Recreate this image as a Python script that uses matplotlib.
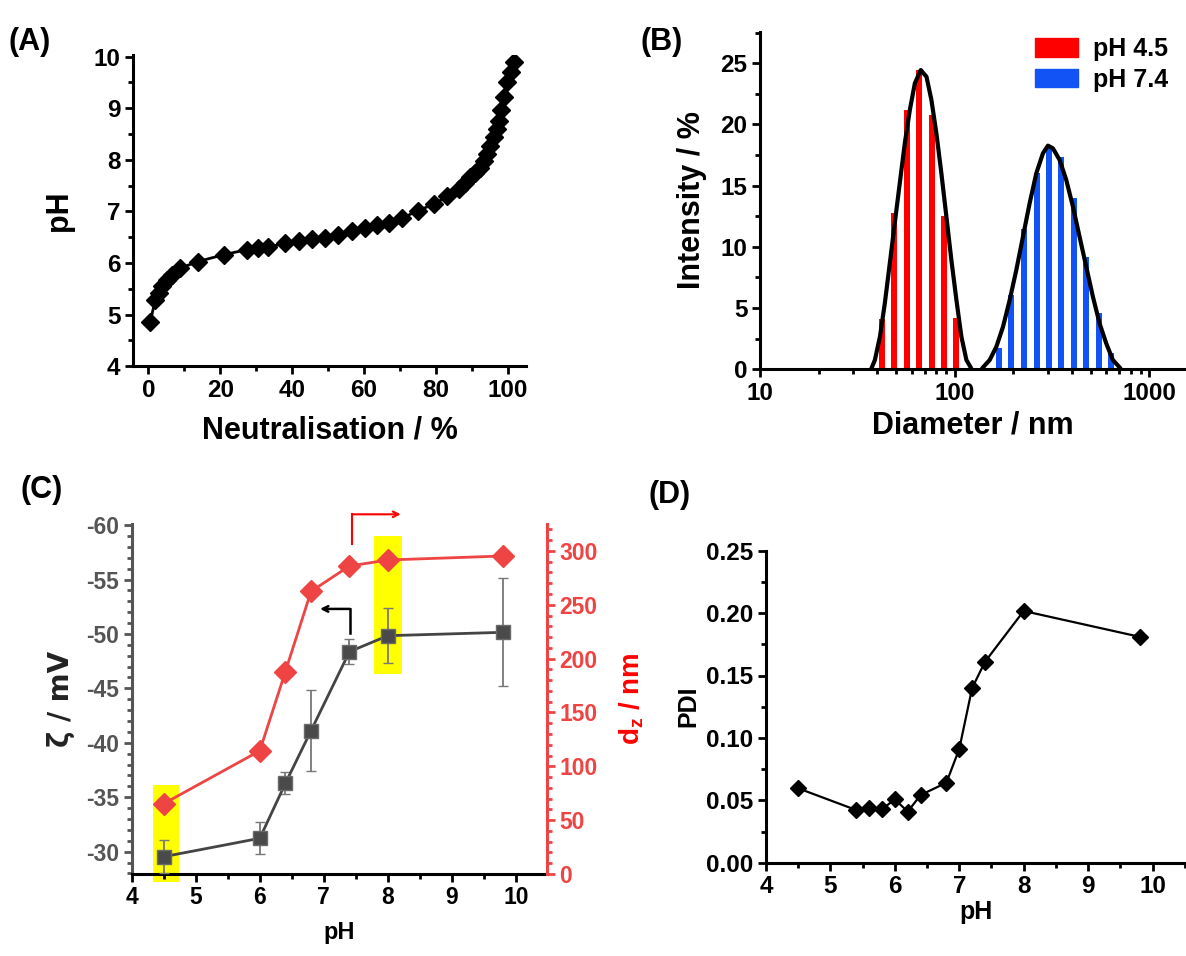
import numpy as np
import matplotlib
matplotlib.use("Agg")
import matplotlib.pyplot as plt
from matplotlib.ticker import MultipleLocator, LogLocator, NullFormatter
from matplotlib.patches import Rectangle, Patch
from matplotlib.font_manager import FontProperties

plt.rcParams['font.family'] = ['Liberation Sans', 'DejaVu Sans']
plt.rcParams['font.weight'] = 'bold'
plt.rcParams['axes.unicode_minus'] = False
plt.rcParams['mathtext.fontset'] = 'custom'
plt.rcParams['mathtext.rm'] = 'Liberation Sans:bold'
plt.rcParams['mathtext.it'] = 'Liberation Sans:bold'
plt.rcParams['mathtext.bf'] = 'Liberation Sans:bold'

# ---------------- data ----------------
# (A) titration curve
neut_pct = [0.5, 1.9, 2.8, 3.7, 5.1, 6.5, 8.8, 13.8, 20.9, 27.4, 30.4, 33.4, 37.9,
            41.8, 45.5, 49.2, 52.9, 56.7, 60.4, 63.6, 67.0, 70.6, 74.9, 79.4, 83.1,
            86.4, 88.2, 89.6, 91.0, 92.4, 93.3, 94.3, 95.2, 96.1, 97.0, 97.5, 98.2,
            98.9, 99.8, 100.8, 101.7]
titr_pH = [4.86, 5.29, 5.42, 5.55, 5.68, 5.77, 5.90, 6.03, 6.16, 6.26, 6.29, 6.31, 6.38,
           6.42, 6.46, 6.49, 6.55, 6.62, 6.67, 6.73, 6.78, 6.87, 7.01, 7.14, 7.29,
           7.43, 7.56, 7.66, 7.75, 7.85, 7.98, 8.11, 8.27, 8.44, 8.60, 8.76, 8.96,
           9.22, 9.51, 9.71, 9.90]
A_xticks = [0, 20, 40, 60, 80, 100]
A_yticks = [4, 5, 6, 7, 8, 9, 10]

# (B) DLS size distributions
diam_45 = [42.4, 49.0, 56.8, 65.9, 76.4, 88.3, 102.0]
int_45 = [4.1, 12.8, 21.2, 24.45, 20.8, 12.5, 4.2]
diam_74 = [169, 195.5, 226.6, 263.5, 303.7, 351.9, 408, 472, 549, 637]
int_74 = [1.7, 6.07, 11.5, 16.06, 18.06, 17.37, 13.97, 9.2, 4.57, 1.36]
fit45_d = [37.4, 38.9, 41.3, 43.75, 46.4, 49.2, 52.2, 55.4, 58.8, 62.4, 66.9, 71.6, 75.9,
           80.5, 85.4, 90.6, 96.1, 102.0, 108.2, 114.8, 120.3]
fit45_i = [0.1, 0.76, 2.67, 5.39, 8.66, 11.93, 15.2, 18.46, 21.18, 23.37, 24.45, 23.9, 22.0,
           19.28, 16.0, 12.47, 8.93, 5.66, 2.66, 0.76, 0.2]
fit74_d = [139.7, 151.2, 163.6, 177.0, 191.5, 207.1, 224.0, 242.4, 262.3, 283.8, 301.0,
           319.4, 345.6, 373.8, 404.5, 437.5, 473.4, 512.2, 554.1, 599.5, 648.6, 702.0]
fit74_i = [0.16, 0.76, 1.85, 3.48, 5.66, 8.11, 10.83, 13.56, 16.01, 17.65, 18.27,
           18.05, 17.1, 15.47, 13.29, 10.83, 8.38, 5.93, 3.76, 2.12, 0.76, 0.16]
B_xticks = [10, 100, 1000]
B_yticks = [0, 5, 10, 15, 20, 25]

# (C) zeta potential and z-average diameter
c_pH = [4.5, 6.0, 6.4, 6.8, 7.4, 8.0, 9.8]
zeta = [-29.54, -31.23, -36.28, -41.11, -48.37, -49.84, -50.15]
zeta_err = [1.5, 1.47, 1.0, 3.7, 1.15, 2.55, 4.95]
dz = [65.3, 114.4, 188.0, 262.4, 286.0, 291.6, 295.3]
C_xticks = [4, 5, 6, 7, 8, 9, 10]
C_lyticks = [-30, -35, -40, -45, -50, -55, -60]
C_ryticks = [0, 50, 100, 150, 200, 250, 300]

# (D) PDI
d_pH = [4.5, 5.4, 5.6, 5.8, 6.0, 6.2, 6.4, 6.8, 7.0, 7.2, 7.4, 8.0, 9.8]
pdi = [0.0596, 0.0422, 0.0436, 0.0428, 0.0508, 0.0409, 0.0542, 0.0641, 0.0911,
       0.140, 0.161, 0.2017, 0.181]
D_xticks = [4, 5, 6, 7, 8, 9, 10]
D_yticks = [0.00, 0.05, 0.10, 0.15, 0.20, 0.25]

# ---------------- figure ----------------
W, H = 1186, 956
fig = plt.figure(figsize=(W / 100, H / 100), dpi=100)


def add_ax(l, r, t, b):
    return fig.add_axes([l / W, 1 - b / H, (r - l) / W, (b - t) / H])


def fp(size):
    return FontProperties(family='Liberation Sans', weight='bold', size=size)


def set_ticks(ax, xt, yt, size, yfmt='{:g}', color=None):
    ax.set_xticks(xt)
    ax.set_xticklabels([str(v) for v in xt], fontproperties=fp(size))
    ax.set_yticks(yt)
    ax.set_yticklabels([yfmt.format(v) for v in yt], fontproperties=fp(size),
                       color=color if color else 'black')


def style(ax):
    for s in ['top', 'right']:
        ax.spines[s].set_visible(False)
    for s in ['left', 'bottom']:
        ax.spines[s].set_linewidth(2.2)
    ax.tick_params(which='major', direction='out', length=6, width=2, pad=3)
    ax.tick_params(which='minor', direction='out', length=3.5, width=2)


# ---- (A) ----
axA = add_ax(133, 526, 55, 366.3)
axA.plot(neut_pct, titr_pH, color='black', lw=2, marker='D', ms=9.2, mfc='black', mec='black')
axA.set_xlim(-4.3, 105.1)
axA.set_ylim(4, 10.03)
style(axA)
set_ticks(axA, A_xticks, A_yticks, 17.5)
axA.xaxis.set_minor_locator(MultipleLocator(10))
axA.yaxis.set_minor_locator(MultipleLocator(0.5))
axA.set_xlabel('Neutralisation / %', fontproperties=fp(22), labelpad=10)
axA.set_ylabel('pH', fontproperties=fp(22), labelpad=14)
fig.text(8 / W, 1 - 42 / H, '(A)', fontproperties=fp(22), va='center')

# ---- (B) ----
axB = add_ax(760, 1186, 31.7, 369.3)
hw = 0.0155
for d_, i_, col in [(diam_45, int_45, '#FF0000'), (diam_74, int_74, '#1153F5')]:
    d_ = np.array(d_)
    left = d_ * 10 ** (-hw)
    axB.bar(left, i_, width=d_ * (10 ** hw - 10 ** (-hw)), align='edge', color=col, lw=0)
axB.plot(fit45_d, fit45_i, color='black', lw=3, solid_joinstyle='round')
axB.plot(fit74_d, fit74_i, color='black', lw=3, solid_joinstyle='round')
axB.set_xscale('log')
axB.set_xlim(10, 1540)
axB.set_ylim(0, 27.58)
style(axB)
set_ticks(axB, B_xticks, B_yticks, 17.5)
axB.xaxis.set_minor_locator(LogLocator(base=10, subs=np.arange(2, 10)))
axB.xaxis.set_minor_formatter(NullFormatter())
axB.yaxis.set_minor_locator(MultipleLocator(2.5))
axB.set_xlabel('Diameter / nm', fontproperties=fp(22), labelpad=4)
axB.set_ylabel('Intensity / %', fontproperties=fp(22), labelpad=10)
axB.legend(handles=[Patch(color='#FF0000', label='pH 4.5'), Patch(color='#1153F5', label='pH 7.4')],
           loc='upper right', bbox_to_anchor=(1.01, 1.05), frameon=False, prop=fp(18),
           handlelength=1.7, handleheight=0.75, handletextpad=0.6, labelspacing=0.25)
fig.text(640 / W, 1 - 42 / H, '(B)', fontproperties=fp(22), va='center')

# ---- (C) ----
grey = '#555555'
red = '#EE4444'
axC = add_ax(131.7, 546.7, 524, 874)
axC.add_patch(Rectangle((4.33, -36.13), 0.41, 8.93, color='#FFFF00', lw=0, zorder=0, clip_on=False))
axC.add_patch(Rectangle((7.79, -58.98), 0.43, 12.7, color='#FFFF00', lw=0, zorder=0))
axC.errorbar(c_pH, zeta, yerr=zeta_err, color='#444444', lw=2, marker='s', ms=10.5,
             mfc='#4a4a4a', mec='#6a6a6a', mew=1, ecolor='#777777', elinewidth=1.3,
             capsize=3.5, capthick=1.2, zorder=3)
axC.set_xlim(4, 10.48)
axC.set_ylim(-27.95, -60.1)
style(axC)
set_ticks(axC, C_xticks, C_lyticks, 16.5, color=grey)
axC.xaxis.set_minor_locator(MultipleLocator(0.5))
axC.yaxis.set_minor_locator(MultipleLocator(1))
axC.spines['left'].set_color(grey)
axC.tick_params(axis='y', which='both', color=grey)
axC.set_xlabel('pH', fontproperties=fp(17), labelpad=8)
axC.set_ylabel('ζ / mV', fontsize=20, fontweight='bold', labelpad=8, color='#222222',
               family=['DejaVu Sans'])
# black arrow pointing to left axis
axC.annotate('', xy=(6.94, -52.3), xytext=(7.41, -52.3),
             arrowprops=dict(arrowstyle='->', color='black', lw=1.8, shrinkA=0, shrinkB=0))
axC.plot([7.41, 7.41], [-50.05, -52.3], color='black', lw=1.8)

axC2 = axC.twinx()
axC2.plot(c_pH, dz, color=red, lw=2, marker='D', ms=11, mfc=red, mec=red, zorder=3)
axC2.set_ylim(0, 325)
for s in ['top', 'left', 'bottom']:
    axC2.spines[s].set_visible(False)
axC2.spines['right'].set_color(red)
axC2.spines['right'].set_linewidth(2.2)
axC2.tick_params(which='major', direction='out', length=6, width=2, color=red, pad=3)
axC2.tick_params(which='minor', direction='out', length=3.5, width=2, color=red)
axC2.set_yticks(C_ryticks)
axC2.set_yticklabels([str(v) for v in C_ryticks], fontproperties=fp(16.5), color=red)
axC2.yaxis.set_minor_locator(MultipleLocator(10))
axC2.set_ylabel(r'd$_\mathregular{z}$ / nm', fontproperties=fp(20), color='#FF0000', labelpad=14)
# red arrow pointing to right axis
axC2.plot([7.44, 7.44], [306, 334], color='#FF0000', lw=1.5, clip_on=False)
axC2.annotate('', xy=(8.2, 334), xytext=(7.44, 334), annotation_clip=False,
              arrowprops=dict(arrowstyle='->', color='#FF0000', lw=1.5, shrinkA=0, shrinkB=0))
fig.text(20 / W, 1 - 490 / H, '(C)', fontproperties=fp(22), va='center')

# ---- (D) ----
axD = add_ax(766, 1186, 550.7, 862.7)
axD.plot(d_pH, pdi, color='black', lw=1.6, marker='D', ms=8.2, mfc='black', mec='black')
axD.set_xlim(4, 10.52)
axD.set_ylim(0, 0.25)
style(axD)
set_ticks(axD, D_xticks, D_yticks, 17.5, yfmt='{:.2f}')
axD.xaxis.set_minor_locator(MultipleLocator(0.5))
axD.yaxis.set_minor_locator(MultipleLocator(0.025))
axD.set_xlabel('pH', fontproperties=fp(18), labelpad=1)
axD.set_ylabel('PDI', fontproperties=fp(18), labelpad=4)
fig.text(648 / W, 1 - 495 / H, '(D)', fontproperties=fp(22), va='center')

fig.savefig('out.png', dpi=100)
